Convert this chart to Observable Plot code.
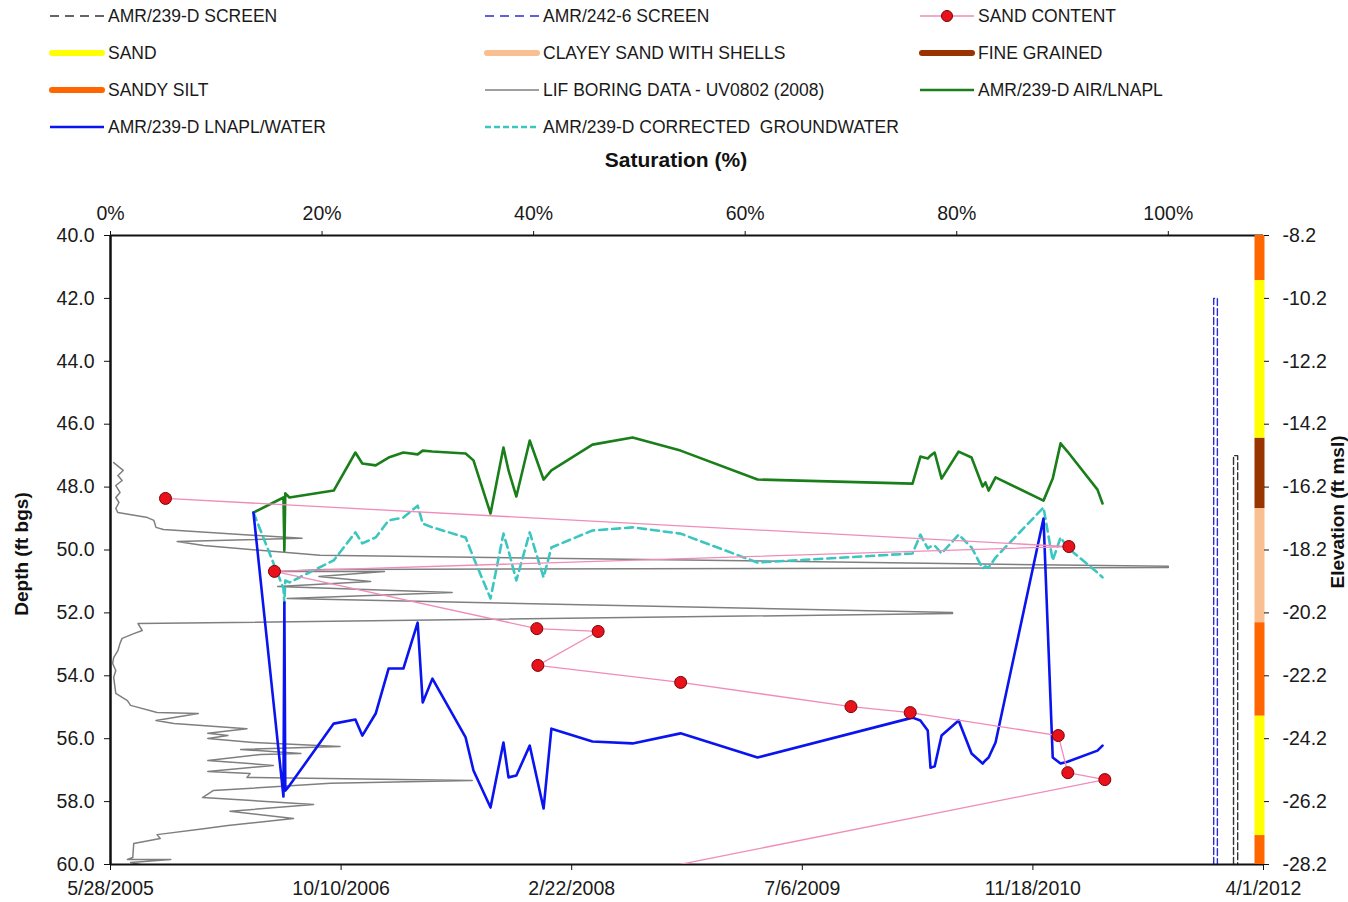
<!DOCTYPE html>
<html><head><meta charset="utf-8">
<script src="https://cdn.jsdelivr.net/npm/d3@7"></script>
<script src="https://cdn.jsdelivr.net/npm/@observablehq/plot@0.6"></script>
<style>
body{margin:0;background:#fff;font-family:"Liberation Sans",Arial,sans-serif;}
#wrap{position:relative;width:1348px;height:902px;overflow:hidden;background:#fff;}
.layer{position:absolute;left:0;top:170px;}
.leg{position:absolute;height:24px;display:flex;align-items:center;font-size:17.5px;color:#1a1a1a;white-space:nowrap;}
.leg svg{margin-right:2px;}
.title{position:absolute;font-weight:bold;color:#111;white-space:nowrap;transform:translate(-50%,-50%);}
.rot{transform:translate(-50%,-50%) rotate(-90deg);}
</style></head><body><div id="wrap"></div>
<script>
// ---------- DATA ----------
// time series (AMR/239-D), depth in ft bgs
const sampleDates = ["2006-04-03","2006-06-07","2006-06-09","2006-06-11","2006-06-20","2006-09-24","2006-11-10","2006-11-25","2006-12-24","2007-01-21","2007-02-22","2007-03-25","2007-04-05","2007-04-26","2007-07-07","2007-07-24","2007-08-30","2007-09-27","2007-10-08","2007-10-25","2007-11-23","2007-12-23","2008-01-09","2008-04-07","2008-07-03","2008-10-15","2009-03-31","2010-03-02","2010-03-19","2010-04-04","2010-04-10","2010-04-19","2010-05-04","2010-06-10","2010-07-08","2010-08-01","2010-08-07","2010-08-14","2010-08-29","2010-12-11","2010-12-31","2011-01-17","2011-02-01","2011-04-07","2011-04-18"];
const airLnapl = [48.81,48.33,50.02,48.20,48.33,48.11,46.90,47.25,47.31,47.06,46.90,46.96,46.84,46.87,46.93,47.15,48.84,46.74,47.47,48.30,46.52,47.76,47.47,46.65,46.42,46.84,47.76,47.89,47.03,47.09,47.00,46.90,47.73,46.87,47.06,47.98,47.85,48.11,47.69,48.43,47.73,46.61,46.87,48.08,48.52];
const correctedGW = [48.81,51.22,51.70,50.97,51.03,50.33,49.44,49.79,49.60,49.06,48.97,48.59,49.16,49.28,49.60,50.24,51.54,49.48,50.02,50.97,49.44,50.87,49.92,49.38,49.28,49.48,50.40,50.11,49.51,49.95,49.89,49.86,50.11,49.51,49.92,50.59,50.52,50.56,50.24,48.65,50.33,49.60,49.92,50.72,50.87];
const lnaplWater = [48.81,57.84,51.67,57.65,57.49,55.52,55.39,55.90,55.20,53.77,53.77,52.31,54.85,54.09,55.96,57.01,58.19,56.12,57.23,57.17,56.22,58.22,55.68,56.09,56.15,55.83,56.60,55.33,55.42,55.74,56.92,56.88,55.90,55.42,56.47,56.79,56.69,56.60,56.12,49.00,56.60,56.79,56.73,56.38,56.22];

// LIF boring data UV0802 (2008): response (%) vs depth
const lifResponse = [0.3,1.2,0.7,1.1,0.5,0.9,0.5,0.8,0.5,0.7,3.5,4.1,4.3,5.0,18.1,6.3,8.8,19.8,100,100,20.3,15.8,25.9,19.7,24.6,15.8,32.3,16.7,79.6,79.6,2.6,3.0,2.2,1.1,0.9,0.7,0.3,0.2,0.5,0.3,0.5,1.6,1.9,4.4,8.3,4.3,6.0,12.9,9.2,11.1,9.2,13.5,21.7,12.3,18.0,14.2,9.2,15.4,9.2,13.2,12.9,34.2,20.8,9.7,8.7,19.2,11.3,17.3,11.1,8.8,4.4,4.7,2.2,2.1,1.6,5.7,1.9,2.8];
const lifDepth = [47.22,47.47,47.63,47.79,47.95,48.17,48.33,48.49,48.68,48.81,48.97,49.06,49.28,49.35,49.63,49.73,49.86,50.17,50.52,50.56,50.62,50.68,50.68,50.84,51.00,51.16,51.35,51.54,51.99,52.02,52.34,52.56,52.66,52.81,52.97,53.20,53.42,53.61,53.83,54.05,54.56,54.79,54.94,55.17,55.20,55.42,55.52,55.68,55.83,55.90,55.99,56.12,56.25,56.34,56.47,56.50,56.69,56.85,57.04,57.11,57.23,57.33,57.42,57.65,57.87,58.09,58.31,58.54,58.76,58.86,59.05,59.17,59.33,59.78,59.84,59.84,59.94,60.00];

// sand content (%) vs depth
const sandContent = [5.2,90.6,15.5,40.3,46.1,40.4,53.9,70.0,75.6,89.6,90.5,94.0,24.0];
const sandDepth = [48.36,49.89,50.68,52.50,52.59,53.67,54.21,54.98,55.17,55.90,57.08,57.30,62.0];

// well screens
const screenNames = ["AMR/242-6 SCREEN","AMR/239-D SCREEN"];
const screenLeft = ["2011-12-15","2012-01-27"];
const screenRight = ["2011-12-23","2012-02-05"];
const screenTop = [42.0, 47.0];
const screenBottom = [60.0, 60.0];
const screenColors = ["#2b2bd6","#333333"];

// soil column
const layerTop = [40.0,41.43,46.45,48.68,52.31,55.29,59.08];
const layerBottom = [41.43,46.45,48.68,52.31,55.29,59.08,60.0];
const layerType = ["SANDY SILT","SAND","FINE GRAINED","CLAYEY SAND WITH SHELLS","SANDY SILT","SAND","SANDY SILT"];
const layerColors = {"SAND":"#FFFF00","CLAYEY SAND WITH SHELLS":"#F9BF90","FINE GRAINED":"#993300","SANDY SILT":"#FF6600"};

// axes
const depthTicks = [40,42,44,46,48,50,52,54,56,58,60];
const depthLabels = ["40.0","42.0","44.0","46.0","48.0","50.0","52.0","54.0","56.0","58.0","60.0"];
const elevLabels = ["-8.2","-10.2","-12.2","-14.2","-16.2","-18.2","-20.2","-22.2","-24.2","-26.2","-28.2"];
const dateTicks = ["2005-05-28","2006-10-10","2008-02-22","2009-07-06","2010-11-18","2012-04-01"];
const dateLabels = ["5/28/2005","10/10/2006","2/22/2008","7/6/2009","11/18/2010","4/1/2012"];
const pctTicks = [0,20,40,60,80,100];
const pctLabels = ["0%","20%","40%","60%","80%","100%"];
const pctDomain = [0,109];

// ---------- BUILD ----------
const wrap = document.getElementById("wrap");
const xStart = new Date(dateTicks[0]), xEnd = new Date(dateTicks[dateTicks.length-1]);
const W=1348,H=732;
const baseStyle = {fontFamily:'"Liberation Sans", Arial, sans-serif', fontSize:"19.5px", color:"#1a1a1a", overflow:"visible"};
function mk(x, marks, bg){
  return Plot.plot({width:W,height:H,marginTop:65,marginRight:85,marginBottom:38,marginLeft:110,
    x:{...x,axis:null}, y:{domain:[60,40],axis:null}, style:{...baseStyle,background:bg}, marks});
}
const dT = dateTicks.map(d=>new Date(d));
const series = sampleDates.map((d,i)=>({date:new Date(d), air:airLnapl[i], gw:correctedGW[i], water:lnaplWater[i]}));
const lif = lifResponse.map((v,i)=>({v, d:lifDepth[i]}));
const sand = sandContent.map((v,i)=>({v, d:sandDepth[i]}));
const layers = layerType.map((t,i)=>({t, y1:layerTop[i], y2:layerBottom[i]}));

// layer 1: percent scale, LIF data + top axis
const p1 = mk({type:"linear",domain:pctDomain},[
  Plot.line(lif,{x:"v",y:"d",stroke:"#7f7f7f",strokeWidth:1.5,clip:true}),
  Plot.axisX({anchor:"top",ticks:pctTicks,tickFormat:d=>pctLabels[pctTicks.indexOf(d)],tickSize:5,tickPadding:11,label:null,stroke:"#111",fontSize:19.5})
],"white");

// layer 2: time scale
const screenMarks = screenNames.map((n,i)=>Plot.line([
  {x:new Date(screenLeft[i]),y:screenBottom[i]},{x:new Date(screenLeft[i]),y:screenTop[i]},
  {x:new Date(screenRight[i]),y:screenTop[i]},{x:new Date(screenRight[i]),y:screenBottom[i]}],
  {x:"x",y:"y",stroke:screenColors[i],strokeWidth:1.4,strokeDasharray:"7,3"}));
const p2 = mk({type:"utc",domain:[xStart,xEnd]},[
  ...screenMarks,
  Plot.line(series,{x:"date",y:"air",stroke:"#1a7f1a",strokeWidth:2.6}),
  Plot.line(series,{x:"date",y:"gw",stroke:"#3cc6c0",strokeWidth:2.6,strokeDasharray:"8,5"}),
  Plot.line(series,{x:"date",y:"water",stroke:"#0a14f0",strokeWidth:2.6}),
  Plot.ruleY([40],{stroke:"#111",strokeWidth:2}),
  Plot.ruleY([60],{stroke:"#111",strokeWidth:2}),
  Plot.ruleX([xStart],{stroke:"#111",strokeWidth:2.5}),
  Plot.ruleX(layers,{x:()=>xEnd,y1:"y1",y2:"y2",stroke:d=>layerColors[d.t],strokeWidth:10,dx:-4}),
  Plot.axisY({anchor:"left",ticks:depthTicks,tickFormat:d=>depthLabels[depthTicks.indexOf(d)],tickSize:6,tickPadding:10,label:null,stroke:"#111",fontSize:19.5}),
  Plot.axisY({anchor:"right",ticks:depthTicks,tickFormat:d=>elevLabels[depthTicks.indexOf(d)],tickSize:5,tickPadding:14,label:null,stroke:"#111",fontSize:19.5}),
  Plot.axisX({anchor:"bottom",ticks:dT,tickFormat:d=>dateLabels[dT.findIndex(t=>+t===+d)],tickSize:6,tickPadding:11,label:null,stroke:"#111",fontSize:19.5})
],"transparent");

// layer 3: sand content on top
const p3 = mk({type:"linear",domain:pctDomain},[
  Plot.line(sand,{x:"v",y:"d",stroke:"#f08cb8",strokeWidth:1.3,clip:true}),
  Plot.dot(sand,{x:"v",y:"d",r:6,fill:"#e8121c",stroke:"#7a0000",strokeWidth:1,clip:true})
],"transparent");

[p1,p2,p3].forEach(p=>{p.classList.add("layer");wrap.appendChild(p);});

// legend
const legendItems = [
  ["AMR/239-D SCREEN",{type:"line",color:"#333",w:1.3,dash:"9,6"}],
  ["AMR/242-6 SCREEN",{type:"line",color:"#2b2bd6",w:1.3,dash:"9,6"}],
  ["SAND CONTENT",{type:"dot"}],
  ["SAND",{type:"line",color:layerColors["SAND"],w:6,cap:"round"}],
  ["CLAYEY SAND WITH SHELLS",{type:"line",color:layerColors["CLAYEY SAND WITH SHELLS"],w:6,cap:"round"}],
  ["FINE GRAINED",{type:"line",color:layerColors["FINE GRAINED"],w:6,cap:"round"}],
  ["SANDY SILT",{type:"line",color:layerColors["SANDY SILT"],w:6,cap:"round"}],
  ["LIF BORING DATA - UV0802 (2008)",{type:"line",color:"#7f7f7f",w:1.5}],
  ["AMR/239-D AIR/LNAPL",{type:"line",color:"#1a7f1a",w:2.6}],
  ["AMR/239-D LNAPL/WATER",{type:"line",color:"#0a14f0",w:2.6}],
  ["AMR/239-D CORRECTED  GROUNDWATER",{type:"line",color:"#3cc6c0",w:2.6,dash:"6,3"}]
];
const colX=[48,483,918], rowY=[16,53,90,127];
legendItems.forEach((it,i)=>{
  const c=i%3, r=Math.floor(i/3);
  const div=document.createElement("div");
  div.className="leg"; div.style.left=colX[c]+"px"; div.style.top=(rowY[r]-12)+"px";
  const s=it[1]; let sw;
  if(s.type==="dot") sw=`<svg width="58" height="24"><line x1="2" x2="56" y1="12" y2="12" stroke="#f08cb8" stroke-width="1.3"/><circle cx="29" cy="12" r="5.5" fill="#e8121c" stroke="#7a0000"/></svg>`;
  else sw=`<svg width="58" height="24"><line x1="${s.cap?4:2}" x2="${s.cap?54:56}" y1="12" y2="12" stroke="${s.color}" stroke-width="${s.w}" ${s.dash?`stroke-dasharray="${s.dash}"`:""} stroke-linecap="${s.cap||"butt"}"/></svg>`;
  div.innerHTML=sw+`<span style="white-space:pre">${it[0]}</span>`;
  wrap.appendChild(div);
});
function title(txt,x,y,size,rot){const d=document.createElement("div");d.className="title"+(rot?" rot":"");d.style.left=x+"px";d.style.top=y+"px";d.style.fontSize=size+"px";d.textContent=txt;wrap.appendChild(d);}
title("Saturation (%)",676,160,21,false);
title("Depth (ft bgs)",22,554,19,true);
title("Elevation (ft msl)",1338,512,19,true);
</script></body></html>
